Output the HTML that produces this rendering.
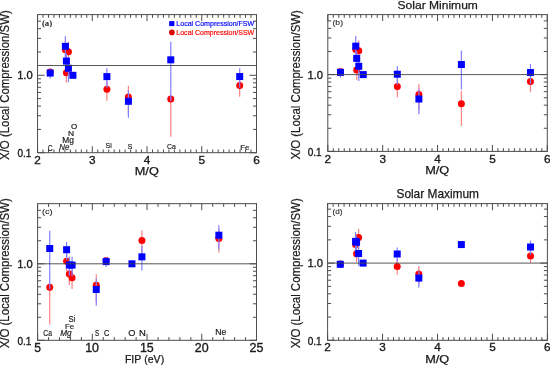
<!DOCTYPE html>
<html><head><meta charset="utf-8"><style>
html,body{margin:0;padding:0;background:#fff;width:550px;height:365px;overflow:hidden}
svg{display:block;filter:blur(0.35px)}
text{font-kerning:none;stroke:currentColor}
</style></head><body>
<svg width="550" height="365" viewBox="0 0 550 365">
<rect width="550" height="365" fill="#fff"/>
<line x1="65.41" y1="63.87" x2="65.41" y2="39.85" stroke="#ff8080" stroke-width="1.2"/>
<line x1="66.40" y1="82.80" x2="66.40" y2="65.24" stroke="#ff8080" stroke-width="1.2"/>
<line x1="68.42" y1="66.94" x2="68.42" y2="41.48" stroke="#ff8080" stroke-width="1.2"/>
<line x1="106.90" y1="100.69" x2="106.90" y2="80.72" stroke="#ff8080" stroke-width="1.2"/>
<line x1="128.41" y1="114.00" x2="128.41" y2="85.75" stroke="#ff8080" stroke-width="1.2"/>
<line x1="170.78" y1="136.76" x2="170.78" y2="99.06" stroke="#ff8080" stroke-width="1.2"/>
<line x1="239.70" y1="96.74" x2="239.70" y2="77.62" stroke="#ff8080" stroke-width="1.2"/>
<circle cx="50.19" cy="72.05" r="3.5" fill="#ff0000"/>
<circle cx="65.41" cy="49.76" r="3.5" fill="#ff0000"/>
<circle cx="66.40" cy="72.67" r="3.5" fill="#ff0000"/>
<circle cx="68.42" cy="51.85" r="3.5" fill="#ff0000"/>
<circle cx="106.90" cy="89.31" r="3.5" fill="#ff0000"/>
<circle cx="128.41" cy="96.97" r="3.5" fill="#ff0000"/>
<circle cx="170.78" cy="99.06" r="3.5" fill="#ff0000"/>
<circle cx="239.70" cy="85.59" r="3.5" fill="#ff0000"/>
<line x1="50.19" y1="78.60" x2="50.19" y2="68.33" stroke="#8080ff" stroke-width="1.2"/>
<line x1="65.41" y1="60.94" x2="65.41" y2="36.21" stroke="#8080ff" stroke-width="1.2"/>
<line x1="66.40" y1="71.43" x2="66.40" y2="53.16" stroke="#8080ff" stroke-width="1.2"/>
<line x1="68.42" y1="82.19" x2="68.42" y2="57.29" stroke="#8080ff" stroke-width="1.2"/>
<line x1="106.90" y1="87.84" x2="106.90" y2="68.20" stroke="#8080ff" stroke-width="1.2"/>
<line x1="128.41" y1="117.79" x2="128.41" y2="90.32" stroke="#8080ff" stroke-width="1.2"/>
<line x1="170.78" y1="101.07" x2="170.78" y2="41.86" stroke="#8080ff" stroke-width="1.2"/>
<line x1="239.70" y1="87.68" x2="239.70" y2="68.20" stroke="#8080ff" stroke-width="1.2"/>
<rect x="46.69" y="69.56" width="7" height="7" fill="#0000ff"/>
<rect x="61.91" y="42.85" width="7" height="7" fill="#0000ff"/>
<rect x="62.90" y="57.56" width="7" height="7" fill="#0000ff"/>
<rect x="64.92" y="64.76" width="7" height="7" fill="#0000ff"/>
<rect x="69.41" y="71.80" width="7" height="7" fill="#0000ff"/>
<rect x="103.40" y="73.12" width="7" height="7" fill="#0000ff"/>
<rect x="124.91" y="97.81" width="7" height="7" fill="#0000ff"/>
<rect x="167.28" y="56.32" width="7" height="7" fill="#0000ff"/>
<rect x="236.20" y="73.04" width="7" height="7" fill="#0000ff"/>
<line x1="355.73" y1="59.24" x2="355.73" y2="42.34" stroke="#ff8080" stroke-width="1.2"/>
<line x1="356.72" y1="79.98" x2="356.72" y2="62.31" stroke="#ff8080" stroke-width="1.2"/>
<line x1="358.75" y1="65.69" x2="358.75" y2="40.42" stroke="#ff8080" stroke-width="1.2"/>
<line x1="397.33" y1="97.49" x2="397.33" y2="78.44" stroke="#ff8080" stroke-width="1.2"/>
<line x1="418.89" y1="110.31" x2="418.89" y2="83.82" stroke="#ff8080" stroke-width="1.2"/>
<line x1="461.37" y1="125.90" x2="461.37" y2="90.70" stroke="#ff8080" stroke-width="1.2"/>
<line x1="530.45" y1="92.19" x2="530.45" y2="73.06" stroke="#ff8080" stroke-width="1.2"/>
<circle cx="340.48" cy="71.53" r="3.5" fill="#ff0000"/>
<circle cx="355.73" cy="49.49" r="3.5" fill="#ff0000"/>
<circle cx="356.72" cy="69.99" r="3.5" fill="#ff0000"/>
<circle cx="358.75" cy="50.72" r="3.5" fill="#ff0000"/>
<circle cx="397.33" cy="86.58" r="3.5" fill="#ff0000"/>
<circle cx="418.89" cy="94.49" r="3.5" fill="#ff0000"/>
<circle cx="461.37" cy="103.78" r="3.5" fill="#ff0000"/>
<circle cx="530.45" cy="81.50" r="3.5" fill="#ff0000"/>
<line x1="340.48" y1="77.80" x2="340.48" y2="67.69" stroke="#8080ff" stroke-width="1.2"/>
<line x1="355.73" y1="60.93" x2="355.73" y2="36.00" stroke="#8080ff" stroke-width="1.2"/>
<line x1="356.72" y1="66.92" x2="356.72" y2="51.56" stroke="#8080ff" stroke-width="1.2"/>
<line x1="358.75" y1="81.00" x2="358.75" y2="56.17" stroke="#8080ff" stroke-width="1.2"/>
<line x1="397.33" y1="85.12" x2="397.33" y2="66.00" stroke="#8080ff" stroke-width="1.2"/>
<line x1="418.89" y1="114.23" x2="418.89" y2="88.65" stroke="#8080ff" stroke-width="1.2"/>
<line x1="461.37" y1="89.58" x2="461.37" y2="50.41" stroke="#8080ff" stroke-width="1.2"/>
<line x1="530.45" y1="83.89" x2="530.45" y2="64.08" stroke="#8080ff" stroke-width="1.2"/>
<rect x="336.98" y="68.90" width="7" height="7" fill="#0000ff"/>
<rect x="352.23" y="42.68" width="7" height="7" fill="#0000ff"/>
<rect x="353.22" y="54.90" width="7" height="7" fill="#0000ff"/>
<rect x="355.25" y="62.81" width="7" height="7" fill="#0000ff"/>
<rect x="359.75" y="71.10" width="7" height="7" fill="#0000ff"/>
<rect x="393.83" y="70.72" width="7" height="7" fill="#0000ff"/>
<rect x="415.39" y="95.52" width="7" height="7" fill="#0000ff"/>
<rect x="457.87" y="61.00" width="7" height="7" fill="#0000ff"/>
<rect x="526.95" y="69.03" width="7" height="7" fill="#0000ff"/>
<line x1="355.57" y1="251.52" x2="355.57" y2="237.62" stroke="#ff8080" stroke-width="1.2"/>
<line x1="356.56" y1="262.00" x2="356.56" y2="247.04" stroke="#ff8080" stroke-width="1.2"/>
<line x1="358.59" y1="249.59" x2="358.59" y2="228.82" stroke="#ff8080" stroke-width="1.2"/>
<line x1="397.22" y1="274.53" x2="397.22" y2="259.24" stroke="#ff8080" stroke-width="1.2"/>
<line x1="418.82" y1="284.48" x2="418.82" y2="266.00" stroke="#ff8080" stroke-width="1.2"/>
<line x1="530.53" y1="263.10" x2="530.53" y2="249.98" stroke="#ff8080" stroke-width="1.2"/>
<circle cx="340.29" cy="264.03" r="3.5" fill="#ff0000"/>
<circle cx="355.57" cy="244.57" r="3.5" fill="#ff0000"/>
<circle cx="356.56" cy="253.68" r="3.5" fill="#ff0000"/>
<circle cx="358.59" cy="237.62" r="3.5" fill="#ff0000"/>
<circle cx="397.22" cy="266.42" r="3.5" fill="#ff0000"/>
<circle cx="418.82" cy="273.99" r="3.5" fill="#ff0000"/>
<circle cx="461.35" cy="283.60" r="3.5" fill="#ff0000"/>
<circle cx="530.53" cy="256.00" r="3.5" fill="#ff0000"/>
<line x1="340.29" y1="267.73" x2="340.29" y2="260.78" stroke="#8080ff" stroke-width="1.2"/>
<line x1="355.57" y1="254.30" x2="355.57" y2="231.99" stroke="#8080ff" stroke-width="1.2"/>
<line x1="356.56" y1="249.20" x2="356.56" y2="236.08" stroke="#8080ff" stroke-width="1.2"/>
<line x1="358.59" y1="265.80" x2="358.59" y2="244.57" stroke="#8080ff" stroke-width="1.2"/>
<line x1="397.22" y1="262.04" x2="397.22" y2="247.51" stroke="#8080ff" stroke-width="1.2"/>
<line x1="418.82" y1="287.73" x2="418.82" y2="270.82" stroke="#8080ff" stroke-width="1.2"/>
<line x1="530.53" y1="254.87" x2="530.53" y2="240.63" stroke="#8080ff" stroke-width="1.2"/>
<rect x="336.79" y="260.80" width="7" height="7" fill="#0000ff"/>
<rect x="352.07" y="237.83" width="7" height="7" fill="#0000ff"/>
<rect x="353.06" y="238.76" width="7" height="7" fill="#0000ff"/>
<rect x="355.09" y="250.03" width="7" height="7" fill="#0000ff"/>
<rect x="359.60" y="259.60" width="7" height="7" fill="#0000ff"/>
<rect x="393.72" y="250.49" width="7" height="7" fill="#0000ff"/>
<rect x="415.32" y="274.58" width="7" height="7" fill="#0000ff"/>
<rect x="457.85" y="241.07" width="7" height="7" fill="#0000ff"/>
<rect x="527.03" y="243.50" width="7" height="7" fill="#0000ff"/>
<line x1="218.85" y1="252.50" x2="218.85" y2="228.76" stroke="#ff8080" stroke-width="1.2"/>
<line x1="66.60" y1="271.21" x2="66.60" y2="253.86" stroke="#ff8080" stroke-width="1.2"/>
<line x1="141.91" y1="255.54" x2="141.91" y2="230.37" stroke="#ff8080" stroke-width="1.2"/>
<line x1="72.08" y1="288.89" x2="72.08" y2="269.16" stroke="#ff8080" stroke-width="1.2"/>
<line x1="96.27" y1="302.05" x2="96.27" y2="274.13" stroke="#ff8080" stroke-width="1.2"/>
<line x1="49.75" y1="324.54" x2="49.75" y2="287.29" stroke="#ff8080" stroke-width="1.2"/>
<line x1="69.34" y1="284.99" x2="69.34" y2="266.10" stroke="#ff8080" stroke-width="1.2"/>
<circle cx="106.12" cy="260.59" r="3.5" fill="#ff0000"/>
<circle cx="218.85" cy="238.56" r="3.5" fill="#ff0000"/>
<circle cx="66.60" cy="261.20" r="3.5" fill="#ff0000"/>
<circle cx="141.91" cy="240.62" r="3.5" fill="#ff0000"/>
<circle cx="72.08" cy="277.65" r="3.5" fill="#ff0000"/>
<circle cx="96.27" cy="285.22" r="3.5" fill="#ff0000"/>
<circle cx="49.75" cy="287.29" r="3.5" fill="#ff0000"/>
<circle cx="69.34" cy="273.97" r="3.5" fill="#ff0000"/>
<line x1="106.12" y1="267.06" x2="106.12" y2="256.92" stroke="#8080ff" stroke-width="1.2"/>
<line x1="218.85" y1="249.61" x2="218.85" y2="225.17" stroke="#8080ff" stroke-width="1.2"/>
<line x1="66.60" y1="259.98" x2="66.60" y2="241.92" stroke="#8080ff" stroke-width="1.2"/>
<line x1="141.91" y1="270.61" x2="141.91" y2="246.00" stroke="#8080ff" stroke-width="1.2"/>
<line x1="72.08" y1="276.19" x2="72.08" y2="256.78" stroke="#8080ff" stroke-width="1.2"/>
<line x1="96.27" y1="305.80" x2="96.27" y2="278.64" stroke="#8080ff" stroke-width="1.2"/>
<line x1="49.75" y1="289.27" x2="49.75" y2="230.75" stroke="#8080ff" stroke-width="1.2"/>
<line x1="69.34" y1="276.04" x2="69.34" y2="256.78" stroke="#8080ff" stroke-width="1.2"/>
<rect x="102.62" y="258.08" width="7" height="7" fill="#0000ff"/>
<rect x="215.35" y="231.69" width="7" height="7" fill="#0000ff"/>
<rect x="63.10" y="246.22" width="7" height="7" fill="#0000ff"/>
<rect x="138.41" y="253.34" width="7" height="7" fill="#0000ff"/>
<rect x="128.45" y="260.30" width="7" height="7" fill="#0000ff"/>
<rect x="68.58" y="261.60" width="7" height="7" fill="#0000ff"/>
<rect x="92.77" y="286.00" width="7" height="7" fill="#0000ff"/>
<rect x="46.25" y="245.00" width="7" height="7" fill="#0000ff"/>
<rect x="65.84" y="261.52" width="7" height="7" fill="#0000ff"/>
<line x1="37.55" y1="65.50" x2="256.50" y2="65.50" stroke="#454545" stroke-width="0.9"/>
<line x1="327.80" y1="74.60" x2="547.30" y2="74.60" stroke="#454545" stroke-width="0.9"/>
<line x1="37.60" y1="263.80" x2="256.50" y2="263.80" stroke="#454545" stroke-width="0.9"/>
<line x1="327.60" y1="263.10" x2="547.40" y2="263.10" stroke="#454545" stroke-width="0.9"/>
<path d="M37.55 152.70L37.55 146.20 M37.55 14.60L37.55 21.10 M92.29 152.70L92.29 146.20 M92.29 14.60L92.29 21.10 M147.02 152.70L147.02 146.20 M147.02 14.60L147.02 21.10 M201.76 152.70L201.76 146.20 M201.76 14.60L201.76 21.10 M256.50 152.70L256.50 146.20 M256.50 14.60L256.50 21.10 M43.02 152.70L43.02 149.50 M43.02 14.60L43.02 17.80 M48.50 152.70L48.50 149.50 M48.50 14.60L48.50 17.80 M53.97 152.70L53.97 149.50 M53.97 14.60L53.97 17.80 M59.44 152.70L59.44 149.50 M59.44 14.60L59.44 17.80 M64.92 152.70L64.92 149.50 M64.92 14.60L64.92 17.80 M70.39 152.70L70.39 149.50 M70.39 14.60L70.39 17.80 M75.87 152.70L75.87 149.50 M75.87 14.60L75.87 17.80 M81.34 152.70L81.34 149.50 M81.34 14.60L81.34 17.80 M86.81 152.70L86.81 149.50 M86.81 14.60L86.81 17.80 M97.76 152.70L97.76 149.50 M97.76 14.60L97.76 17.80 M103.23 152.70L103.23 149.50 M103.23 14.60L103.23 17.80 M108.71 152.70L108.71 149.50 M108.71 14.60L108.71 17.80 M114.18 152.70L114.18 149.50 M114.18 14.60L114.18 17.80 M119.66 152.70L119.66 149.50 M119.66 14.60L119.66 17.80 M125.13 152.70L125.13 149.50 M125.13 14.60L125.13 17.80 M130.60 152.70L130.60 149.50 M130.60 14.60L130.60 17.80 M136.08 152.70L136.08 149.50 M136.08 14.60L136.08 17.80 M141.55 152.70L141.55 149.50 M141.55 14.60L141.55 17.80 M152.50 152.70L152.50 149.50 M152.50 14.60L152.50 17.80 M157.97 152.70L157.97 149.50 M157.97 14.60L157.97 17.80 M163.45 152.70L163.45 149.50 M163.45 14.60L163.45 17.80 M168.92 152.70L168.92 149.50 M168.92 14.60L168.92 17.80 M174.39 152.70L174.39 149.50 M174.39 14.60L174.39 17.80 M179.87 152.70L179.87 149.50 M179.87 14.60L179.87 17.80 M185.34 152.70L185.34 149.50 M185.34 14.60L185.34 17.80 M190.81 152.70L190.81 149.50 M190.81 14.60L190.81 17.80 M196.29 152.70L196.29 149.50 M196.29 14.60L196.29 17.80 M207.24 152.70L207.24 149.50 M207.24 14.60L207.24 17.80 M212.71 152.70L212.71 149.50 M212.71 14.60L212.71 17.80 M218.18 152.70L218.18 149.50 M218.18 14.60L218.18 17.80 M223.66 152.70L223.66 149.50 M223.66 14.60L223.66 17.80 M229.13 152.70L229.13 149.50 M229.13 14.60L229.13 17.80 M234.60 152.70L234.60 149.50 M234.60 14.60L234.60 17.80 M240.08 152.70L240.08 149.50 M240.08 14.60L240.08 17.80 M245.55 152.70L245.55 149.50 M245.55 14.60L245.55 17.80 M251.03 152.70L251.03 149.50 M251.03 14.60L251.03 17.80 M37.55 152.70L44.55 152.70 M256.50 152.70L249.50 152.70 M37.55 75.30L44.55 75.30 M256.50 75.30L249.50 75.30 M37.55 129.40L41.05 129.40 M256.50 129.40L253.00 129.40 M37.55 115.77L41.05 115.77 M256.50 115.77L253.00 115.77 M37.55 106.10L41.05 106.10 M256.50 106.10L253.00 106.10 M37.55 98.60L41.05 98.60 M256.50 98.60L253.00 98.60 M37.55 92.47L41.05 92.47 M256.50 92.47L253.00 92.47 M37.55 87.29L41.05 87.29 M256.50 87.29L253.00 87.29 M37.55 82.80L41.05 82.80 M256.50 82.80L253.00 82.80 M37.55 78.84L41.05 78.84 M256.50 78.84L253.00 78.84 M37.55 52.00L41.05 52.00 M256.50 52.00L253.00 52.00 M37.55 38.37L41.05 38.37 M256.50 38.37L253.00 38.37 M37.55 28.70L41.05 28.70 M256.50 28.70L253.00 28.70 M37.55 21.20L41.05 21.20 M256.50 21.20L253.00 21.20" stroke="#4d4d4d" stroke-width="1" fill="none"/>
<rect x="37.55" y="14.60" width="218.95" height="138.10" stroke="#4d4d4d" stroke-width="1" fill="none"/>
<path d="M327.80 151.40L327.80 144.90 M327.80 14.60L327.80 21.10 M382.68 151.40L382.68 144.90 M382.68 14.60L382.68 21.10 M437.55 151.40L437.55 144.90 M437.55 14.60L437.55 21.10 M492.42 151.40L492.42 144.90 M492.42 14.60L492.42 21.10 M547.30 151.40L547.30 144.90 M547.30 14.60L547.30 21.10 M333.29 151.40L333.29 148.20 M333.29 14.60L333.29 17.80 M338.78 151.40L338.78 148.20 M338.78 14.60L338.78 17.80 M344.26 151.40L344.26 148.20 M344.26 14.60L344.26 17.80 M349.75 151.40L349.75 148.20 M349.75 14.60L349.75 17.80 M355.24 151.40L355.24 148.20 M355.24 14.60L355.24 17.80 M360.73 151.40L360.73 148.20 M360.73 14.60L360.73 17.80 M366.21 151.40L366.21 148.20 M366.21 14.60L366.21 17.80 M371.70 151.40L371.70 148.20 M371.70 14.60L371.70 17.80 M377.19 151.40L377.19 148.20 M377.19 14.60L377.19 17.80 M388.16 151.40L388.16 148.20 M388.16 14.60L388.16 17.80 M393.65 151.40L393.65 148.20 M393.65 14.60L393.65 17.80 M399.14 151.40L399.14 148.20 M399.14 14.60L399.14 17.80 M404.62 151.40L404.62 148.20 M404.62 14.60L404.62 17.80 M410.11 151.40L410.11 148.20 M410.11 14.60L410.11 17.80 M415.60 151.40L415.60 148.20 M415.60 14.60L415.60 17.80 M421.09 151.40L421.09 148.20 M421.09 14.60L421.09 17.80 M426.57 151.40L426.57 148.20 M426.57 14.60L426.57 17.80 M432.06 151.40L432.06 148.20 M432.06 14.60L432.06 17.80 M443.04 151.40L443.04 148.20 M443.04 14.60L443.04 17.80 M448.52 151.40L448.52 148.20 M448.52 14.60L448.52 17.80 M454.01 151.40L454.01 148.20 M454.01 14.60L454.01 17.80 M459.50 151.40L459.50 148.20 M459.50 14.60L459.50 17.80 M464.99 151.40L464.99 148.20 M464.99 14.60L464.99 17.80 M470.47 151.40L470.47 148.20 M470.47 14.60L470.47 17.80 M475.96 151.40L475.96 148.20 M475.96 14.60L475.96 17.80 M481.45 151.40L481.45 148.20 M481.45 14.60L481.45 17.80 M486.94 151.40L486.94 148.20 M486.94 14.60L486.94 17.80 M497.91 151.40L497.91 148.20 M497.91 14.60L497.91 17.80 M503.40 151.40L503.40 148.20 M503.40 14.60L503.40 17.80 M508.89 151.40L508.89 148.20 M508.89 14.60L508.89 17.80 M514.38 151.40L514.38 148.20 M514.38 14.60L514.38 17.80 M519.86 151.40L519.86 148.20 M519.86 14.60L519.86 17.80 M525.35 151.40L525.35 148.20 M525.35 14.60L525.35 17.80 M530.84 151.40L530.84 148.20 M530.84 14.60L530.84 17.80 M536.32 151.40L536.32 148.20 M536.32 14.60L536.32 17.80 M541.81 151.40L541.81 148.20 M541.81 14.60L541.81 17.80 M327.80 151.40L334.80 151.40 M547.30 151.40L540.30 151.40 M327.80 74.60L334.80 74.60 M547.30 74.60L540.30 74.60 M327.80 128.28L331.30 128.28 M547.30 128.28L543.80 128.28 M327.80 114.76L331.30 114.76 M547.30 114.76L543.80 114.76 M327.80 105.16L331.30 105.16 M547.30 105.16L543.80 105.16 M327.80 97.72L331.30 97.72 M547.30 97.72L543.80 97.72 M327.80 91.64L331.30 91.64 M547.30 91.64L543.80 91.64 M327.80 86.50L331.30 86.50 M547.30 86.50L543.80 86.50 M327.80 82.04L331.30 82.04 M547.30 82.04L543.80 82.04 M327.80 78.11L331.30 78.11 M547.30 78.11L543.80 78.11 M327.80 51.48L331.30 51.48 M547.30 51.48L543.80 51.48 M327.80 37.96L331.30 37.96 M547.30 37.96L543.80 37.96 M327.80 28.36L331.30 28.36 M547.30 28.36L543.80 28.36 M327.80 20.92L331.30 20.92 M547.30 20.92L543.80 20.92" stroke="#4d4d4d" stroke-width="1" fill="none"/>
<rect x="327.80" y="14.60" width="219.50" height="136.80" stroke="#4d4d4d" stroke-width="1" fill="none"/>
<path d="M327.60 340.30L327.60 333.80 M327.60 203.60L327.60 210.10 M382.55 340.30L382.55 333.80 M382.55 203.60L382.55 210.10 M437.50 340.30L437.50 333.80 M437.50 203.60L437.50 210.10 M492.45 340.30L492.45 333.80 M492.45 203.60L492.45 210.10 M547.40 340.30L547.40 333.80 M547.40 203.60L547.40 210.10 M333.10 340.30L333.10 337.10 M333.10 203.60L333.10 206.80 M338.59 340.30L338.59 337.10 M338.59 203.60L338.59 206.80 M344.09 340.30L344.09 337.10 M344.09 203.60L344.09 206.80 M349.58 340.30L349.58 337.10 M349.58 203.60L349.58 206.80 M355.08 340.30L355.08 337.10 M355.08 203.60L355.08 206.80 M360.57 340.30L360.57 337.10 M360.57 203.60L360.57 206.80 M366.07 340.30L366.07 337.10 M366.07 203.60L366.07 206.80 M371.56 340.30L371.56 337.10 M371.56 203.60L371.56 206.80 M377.06 340.30L377.06 337.10 M377.06 203.60L377.06 206.80 M388.05 340.30L388.05 337.10 M388.05 203.60L388.05 206.80 M393.54 340.30L393.54 337.10 M393.54 203.60L393.54 206.80 M399.03 340.30L399.03 337.10 M399.03 203.60L399.03 206.80 M404.53 340.30L404.53 337.10 M404.53 203.60L404.53 206.80 M410.02 340.30L410.02 337.10 M410.02 203.60L410.02 206.80 M415.52 340.30L415.52 337.10 M415.52 203.60L415.52 206.80 M421.01 340.30L421.01 337.10 M421.01 203.60L421.01 206.80 M426.51 340.30L426.51 337.10 M426.51 203.60L426.51 206.80 M432.00 340.30L432.00 337.10 M432.00 203.60L432.00 206.80 M443.00 340.30L443.00 337.10 M443.00 203.60L443.00 206.80 M448.49 340.30L448.49 337.10 M448.49 203.60L448.49 206.80 M453.99 340.30L453.99 337.10 M453.99 203.60L453.99 206.80 M459.48 340.30L459.48 337.10 M459.48 203.60L459.48 206.80 M464.98 340.30L464.98 337.10 M464.98 203.60L464.98 206.80 M470.47 340.30L470.47 337.10 M470.47 203.60L470.47 206.80 M475.97 340.30L475.97 337.10 M475.97 203.60L475.97 206.80 M481.46 340.30L481.46 337.10 M481.46 203.60L481.46 206.80 M486.96 340.30L486.96 337.10 M486.96 203.60L486.96 206.80 M497.94 340.30L497.94 337.10 M497.94 203.60L497.94 206.80 M503.44 340.30L503.44 337.10 M503.44 203.60L503.44 206.80 M508.93 340.30L508.93 337.10 M508.93 203.60L508.93 206.80 M514.43 340.30L514.43 337.10 M514.43 203.60L514.43 206.80 M519.92 340.30L519.92 337.10 M519.92 203.60L519.92 206.80 M525.42 340.30L525.42 337.10 M525.42 203.60L525.42 206.80 M530.91 340.30L530.91 337.10 M530.91 203.60L530.91 206.80 M536.41 340.30L536.41 337.10 M536.41 203.60L536.41 206.80 M541.90 340.30L541.90 337.10 M541.90 203.60L541.90 206.80 M327.60 340.30L334.60 340.30 M547.40 340.30L540.40 340.30 M327.60 263.10L334.60 263.10 M547.40 263.10L540.40 263.10 M327.60 317.06L331.10 317.06 M547.40 317.06L543.90 317.06 M327.60 303.47L331.10 303.47 M547.40 303.47L543.90 303.47 M327.60 293.82L331.10 293.82 M547.40 293.82L543.90 293.82 M327.60 286.34L331.10 286.34 M547.40 286.34L543.90 286.34 M327.60 280.23L331.10 280.23 M547.40 280.23L543.90 280.23 M327.60 275.06L331.10 275.06 M547.40 275.06L543.90 275.06 M327.60 270.58L331.10 270.58 M547.40 270.58L543.90 270.58 M327.60 266.63L331.10 266.63 M547.40 266.63L543.90 266.63 M327.60 239.86L331.10 239.86 M547.40 239.86L543.90 239.86 M327.60 226.27L331.10 226.27 M547.40 226.27L543.90 226.27 M327.60 216.62L331.10 216.62 M547.40 216.62L543.90 216.62 M327.60 209.14L331.10 209.14 M547.40 209.14L543.90 209.14" stroke="#4d4d4d" stroke-width="1" fill="none"/>
<rect x="327.60" y="203.60" width="219.80" height="136.70" stroke="#4d4d4d" stroke-width="1" fill="none"/>
<path d="M37.60 340.30L37.60 333.80 M37.60 203.65L37.60 210.15 M92.33 340.30L92.33 333.80 M92.33 203.65L92.33 210.15 M147.05 340.30L147.05 333.80 M147.05 203.65L147.05 210.15 M201.78 340.30L201.78 333.80 M201.78 203.65L201.78 210.15 M256.50 340.30L256.50 333.80 M256.50 203.65L256.50 210.15 M48.55 340.30L48.55 337.10 M48.55 203.65L48.55 206.85 M59.49 340.30L59.49 337.10 M59.49 203.65L59.49 206.85 M70.44 340.30L70.44 337.10 M70.44 203.65L70.44 206.85 M81.38 340.30L81.38 337.10 M81.38 203.65L81.38 206.85 M103.27 340.30L103.27 337.10 M103.27 203.65L103.27 206.85 M114.22 340.30L114.22 337.10 M114.22 203.65L114.22 206.85 M125.16 340.30L125.16 337.10 M125.16 203.65L125.16 206.85 M136.11 340.30L136.11 337.10 M136.11 203.65L136.11 206.85 M158.00 340.30L158.00 337.10 M158.00 203.65L158.00 206.85 M168.94 340.30L168.94 337.10 M168.94 203.65L168.94 206.85 M179.89 340.30L179.89 337.10 M179.89 203.65L179.89 206.85 M190.83 340.30L190.83 337.10 M190.83 203.65L190.83 206.85 M212.72 340.30L212.72 337.10 M212.72 203.65L212.72 206.85 M223.66 340.30L223.66 337.10 M223.66 203.65L223.66 206.85 M234.61 340.30L234.61 337.10 M234.61 203.65L234.61 206.85 M245.56 340.30L245.56 337.10 M245.56 203.65L245.56 206.85 M37.60 340.30L44.60 340.30 M256.50 340.30L249.50 340.30 M37.60 263.80L44.60 263.80 M256.50 263.80L249.50 263.80 M37.60 317.27L41.10 317.27 M256.50 317.27L253.00 317.27 M37.60 303.80L41.10 303.80 M256.50 303.80L253.00 303.80 M37.60 294.24L41.10 294.24 M256.50 294.24L253.00 294.24 M37.60 286.83L41.10 286.83 M256.50 286.83L253.00 286.83 M37.60 280.77L41.10 280.77 M256.50 280.77L253.00 280.77 M37.60 275.65L41.10 275.65 M256.50 275.65L253.00 275.65 M37.60 271.21L41.10 271.21 M256.50 271.21L253.00 271.21 M37.60 267.30L41.10 267.30 M256.50 267.30L253.00 267.30 M37.60 240.77L41.10 240.77 M256.50 240.77L253.00 240.77 M37.60 227.30L41.10 227.30 M256.50 227.30L253.00 227.30 M37.60 217.74L41.10 217.74 M256.50 217.74L253.00 217.74 M37.60 210.33L41.10 210.33 M256.50 210.33L253.00 210.33" stroke="#4d4d4d" stroke-width="1" fill="none"/>
<rect x="37.60" y="203.65" width="218.90" height="136.65" stroke="#4d4d4d" stroke-width="1" fill="none"/>
<rect x="169.2" y="21.1" width="5.2" height="5.0" fill="#0000ff"/>
<circle cx="171.9" cy="32.4" r="2.8" fill="#dd0000"/>
<text x="176.32" y="26.40" style="font-family:'Liberation Sans';font-size:7.70px;stroke-width:0.18px" textLength="77.90" lengthAdjust="spacingAndGlyphs" fill="#0000ff" color="#0000ff">Local Compression/FSW</text>
<text x="176.33" y="35.10" style="font-family:'Liberation Sans';font-size:7.85px;stroke-width:0.18px" textLength="77.90" lengthAdjust="spacingAndGlyphs" fill="#ff0000" color="#ff0000">Local Compression/SSW</text>
<text x="41.91" y="25.63" style="font-family:'Liberation Serif';font-size:7.83px;font-weight:bold;stroke-width:0px" textLength="10.27" lengthAdjust="spacingAndGlyphs" fill="#1a1a1a" color="#1a1a1a" >(a)</text>
<text x="332.46" y="25.36" style="font-family:'Liberation Sans';font-size:6.98px;stroke-width:0.08px" textLength="10.57" lengthAdjust="spacingAndGlyphs" fill="#1a1a1a" color="#1a1a1a" >(b)</text>
<text x="42.03" y="214.26" style="font-family:'Liberation Sans';font-size:6.98px;stroke-width:0.08px" textLength="10.63" lengthAdjust="spacingAndGlyphs" fill="#1a1a1a" color="#1a1a1a" >(c)</text>
<text x="332.49" y="213.83" style="font-family:'Liberation Sans';font-size:7.08px;stroke-width:0.08px" textLength="10.02" lengthAdjust="spacingAndGlyphs" fill="#1a1a1a" color="#1a1a1a" >(d)</text>
<text x="397.55" y="9.20" style="font-family:'Liberation Sans';font-size:11.63px;stroke-width:0.25px" textLength="80.34" lengthAdjust="spacingAndGlyphs" fill="#1a1a1a" color="#1a1a1a">Solar Minimum</text>
<text x="396.46" y="198.00" style="font-family:'Liberation Sans';font-size:11.92px;stroke-width:0.25px" textLength="82.52" lengthAdjust="spacingAndGlyphs" fill="#1a1a1a" color="#1a1a1a">Solar Maximum</text>
<text transform="translate(9.30,159.96) rotate(-90)" x="0" y="0" style="font-family:'Liberation Sans';font-size:11.92px;stroke-width:0.2px" textLength="149.76" lengthAdjust="spacingAndGlyphs" fill="#1a1a1a" color="#1a1a1a">X/O (Local Compression/SW)</text>
<text transform="translate(299.80,159.46) rotate(-90)" x="0" y="0" style="font-family:'Liberation Sans';font-size:11.92px;stroke-width:0.2px" textLength="149.26" lengthAdjust="spacingAndGlyphs" fill="#1a1a1a" color="#1a1a1a">X/O (Local Compression/SW)</text>
<text transform="translate(9.20,348.36) rotate(-90)" x="0" y="0" style="font-family:'Liberation Sans';font-size:11.92px;stroke-width:0.2px" textLength="150.07" lengthAdjust="spacingAndGlyphs" fill="#1a1a1a" color="#1a1a1a">X/O (Local Compression/SW)</text>
<text transform="translate(299.80,348.36) rotate(-90)" x="0" y="0" style="font-family:'Liberation Sans';font-size:11.92px;stroke-width:0.2px" textLength="150.07" lengthAdjust="spacingAndGlyphs" fill="#1a1a1a" color="#1a1a1a">X/O (Local Compression/SW)</text>
<text x="17.15" y="79.30" style="font-family:'Liberation Sans';font-size:11.19px;stroke-width:0.35px" textLength="15.59" lengthAdjust="spacingAndGlyphs" fill="#1a1a1a" color="#1a1a1a">1.0</text>
<text x="307.45" y="78.70" style="font-family:'Liberation Sans';font-size:11.19px;stroke-width:0.35px" textLength="15.59" lengthAdjust="spacingAndGlyphs" fill="#1a1a1a" color="#1a1a1a">1.0</text>
<text x="17.15" y="267.80" style="font-family:'Liberation Sans';font-size:11.19px;stroke-width:0.35px" textLength="15.59" lengthAdjust="spacingAndGlyphs" fill="#1a1a1a" color="#1a1a1a">1.0</text>
<text x="307.45" y="267.20" style="font-family:'Liberation Sans';font-size:11.19px;stroke-width:0.35px" textLength="15.59" lengthAdjust="spacingAndGlyphs" fill="#1a1a1a" color="#1a1a1a">1.0</text>
<text x="17.41" y="157.00" style="font-family:'Liberation Sans';font-size:11.19px;stroke-width:0.35px" textLength="13.98" lengthAdjust="spacingAndGlyphs" fill="#1a1a1a" color="#1a1a1a">0.1</text>
<text x="307.71" y="156.00" style="font-family:'Liberation Sans';font-size:11.19px;stroke-width:0.35px" textLength="13.98" lengthAdjust="spacingAndGlyphs" fill="#1a1a1a" color="#1a1a1a">0.1</text>
<text x="17.41" y="344.80" style="font-family:'Liberation Sans';font-size:11.19px;stroke-width:0.35px" textLength="13.98" lengthAdjust="spacingAndGlyphs" fill="#1a1a1a" color="#1a1a1a">0.1</text>
<text x="307.71" y="344.80" style="font-family:'Liberation Sans';font-size:11.19px;stroke-width:0.35px" textLength="13.98" lengthAdjust="spacingAndGlyphs" fill="#1a1a1a" color="#1a1a1a">0.1</text>
<text x="34.28" y="163.50" style="font-family:'Liberation Sans';font-size:11.77px;stroke-width:0.35px" textLength="6.55" lengthAdjust="spacingAndGlyphs" fill="#1a1a1a" color="#1a1a1a">2</text>
<text x="89.05" y="163.50" style="font-family:'Liberation Sans';font-size:11.77px;stroke-width:0.35px" textLength="6.55" lengthAdjust="spacingAndGlyphs" fill="#1a1a1a" color="#1a1a1a">3</text>
<text x="143.79" y="163.50" style="font-family:'Liberation Sans';font-size:11.77px;stroke-width:0.35px" textLength="6.55" lengthAdjust="spacingAndGlyphs" fill="#1a1a1a" color="#1a1a1a">4</text>
<text x="198.50" y="163.50" style="font-family:'Liberation Sans';font-size:11.77px;stroke-width:0.35px" textLength="6.55" lengthAdjust="spacingAndGlyphs" fill="#1a1a1a" color="#1a1a1a">5</text>
<text x="253.19" y="163.50" style="font-family:'Liberation Sans';font-size:11.77px;stroke-width:0.35px" textLength="6.55" lengthAdjust="spacingAndGlyphs" fill="#1a1a1a" color="#1a1a1a">6</text>
<text x="324.53" y="162.90" style="font-family:'Liberation Sans';font-size:11.77px;stroke-width:0.35px" textLength="6.55" lengthAdjust="spacingAndGlyphs" fill="#1a1a1a" color="#1a1a1a">2</text>
<text x="379.44" y="162.90" style="font-family:'Liberation Sans';font-size:11.77px;stroke-width:0.35px" textLength="6.55" lengthAdjust="spacingAndGlyphs" fill="#1a1a1a" color="#1a1a1a">3</text>
<text x="434.31" y="162.90" style="font-family:'Liberation Sans';font-size:11.77px;stroke-width:0.35px" textLength="6.55" lengthAdjust="spacingAndGlyphs" fill="#1a1a1a" color="#1a1a1a">4</text>
<text x="489.16" y="162.90" style="font-family:'Liberation Sans';font-size:11.77px;stroke-width:0.35px" textLength="6.55" lengthAdjust="spacingAndGlyphs" fill="#1a1a1a" color="#1a1a1a">5</text>
<text x="543.99" y="162.90" style="font-family:'Liberation Sans';font-size:11.77px;stroke-width:0.35px" textLength="6.55" lengthAdjust="spacingAndGlyphs" fill="#1a1a1a" color="#1a1a1a">6</text>
<text x="34.26" y="351.60" style="font-family:'Liberation Sans';font-size:12.06px;stroke-width:0.35px" textLength="6.71" lengthAdjust="spacingAndGlyphs" fill="#1a1a1a" color="#1a1a1a">5</text>
<text x="85.18" y="351.60" style="font-family:'Liberation Sans';font-size:12.06px;stroke-width:0.35px" textLength="13.82" lengthAdjust="spacingAndGlyphs" fill="#1a1a1a" color="#1a1a1a">10</text>
<text x="139.93" y="351.60" style="font-family:'Liberation Sans';font-size:12.06px;stroke-width:0.35px" textLength="13.82" lengthAdjust="spacingAndGlyphs" fill="#1a1a1a" color="#1a1a1a">15</text>
<text x="194.79" y="351.60" style="font-family:'Liberation Sans';font-size:12.06px;stroke-width:0.35px" textLength="13.82" lengthAdjust="spacingAndGlyphs" fill="#1a1a1a" color="#1a1a1a">20</text>
<text x="249.54" y="351.60" style="font-family:'Liberation Sans';font-size:12.06px;stroke-width:0.35px" textLength="13.82" lengthAdjust="spacingAndGlyphs" fill="#1a1a1a" color="#1a1a1a">25</text>
<text x="324.33" y="351.00" style="font-family:'Liberation Sans';font-size:11.77px;stroke-width:0.35px" textLength="6.55" lengthAdjust="spacingAndGlyphs" fill="#1a1a1a" color="#1a1a1a">2</text>
<text x="379.31" y="351.00" style="font-family:'Liberation Sans';font-size:11.77px;stroke-width:0.35px" textLength="6.55" lengthAdjust="spacingAndGlyphs" fill="#1a1a1a" color="#1a1a1a">3</text>
<text x="434.26" y="351.00" style="font-family:'Liberation Sans';font-size:11.77px;stroke-width:0.35px" textLength="6.55" lengthAdjust="spacingAndGlyphs" fill="#1a1a1a" color="#1a1a1a">4</text>
<text x="489.19" y="351.00" style="font-family:'Liberation Sans';font-size:11.77px;stroke-width:0.35px" textLength="6.55" lengthAdjust="spacingAndGlyphs" fill="#1a1a1a" color="#1a1a1a">5</text>
<text x="544.09" y="351.00" style="font-family:'Liberation Sans';font-size:11.77px;stroke-width:0.35px" textLength="6.55" lengthAdjust="spacingAndGlyphs" fill="#1a1a1a" color="#1a1a1a">6</text>
<text x="134.76" y="174.59" style="font-family:'Liberation Sans';font-size:10.62px;stroke-width:0.25px" textLength="24.05" lengthAdjust="spacingAndGlyphs" fill="#1a1a1a" color="#1a1a1a" >M/Q</text>
<text x="425.16" y="173.79" style="font-family:'Liberation Sans';font-size:10.62px;stroke-width:0.25px" textLength="24.05" lengthAdjust="spacingAndGlyphs" fill="#1a1a1a" color="#1a1a1a" >M/Q</text>
<text x="425.16" y="362.99" style="font-family:'Liberation Sans';font-size:10.62px;stroke-width:0.25px" textLength="24.05" lengthAdjust="spacingAndGlyphs" fill="#1a1a1a" color="#1a1a1a" >M/Q</text>
<text x="124.94" y="363.00" style="font-family:'Liberation Sans';font-size:10.76px;stroke-width:0.25px" textLength="39.22" lengthAdjust="spacingAndGlyphs" fill="#1a1a1a" color="#1a1a1a">FIP (eV)</text>
<text x="47.76" y="150.90" style="font-family:'Liberation Sans';font-size:8.87px;stroke-width:0.18px" textLength="4.90" lengthAdjust="spacingAndGlyphs" fill="#1a1a1a" color="#1a1a1a">C</text>
<text x="59.36" y="149.90" style="font-family:'Liberation Sans';font-size:8.14px;font-style:italic;stroke-width:0.18px" textLength="10.03" lengthAdjust="spacingAndGlyphs" fill="#1a1a1a" color="#1a1a1a">Ne</text>
<text x="62.31" y="142.60" style="font-family:'Liberation Sans';font-size:8.28px;stroke-width:0.18px" textLength="11.63" lengthAdjust="spacingAndGlyphs" fill="#1a1a1a" color="#1a1a1a">Mg</text>
<text x="68.01" y="135.80" style="font-family:'Liberation Sans';font-size:7.12px;stroke-width:0.18px" textLength="6.08" lengthAdjust="spacingAndGlyphs" fill="#1a1a1a" color="#1a1a1a">N</text>
<text x="71.02" y="129.20" style="font-family:'Liberation Sans';font-size:7.27px;stroke-width:0.18px" textLength="6.27" lengthAdjust="spacingAndGlyphs" fill="#1a1a1a" color="#1a1a1a">O</text>
<text x="105.58" y="147.90" style="font-family:'Liberation Sans';font-size:7.70px;stroke-width:0.18px" textLength="6.18" lengthAdjust="spacingAndGlyphs" fill="#1a1a1a" color="#1a1a1a">Si</text>
<text x="127.78" y="148.50" style="font-family:'Liberation Sans';font-size:7.56px;stroke-width:0.18px" textLength="4.63" lengthAdjust="spacingAndGlyphs" fill="#1a1a1a" color="#1a1a1a">S</text>
<text x="167.05" y="149.00" style="font-family:'Liberation Sans';font-size:7.99px;stroke-width:0.18px" textLength="8.85" lengthAdjust="spacingAndGlyphs" fill="#1a1a1a" color="#1a1a1a">Ca</text>
<text x="240.25" y="149.70" style="font-family:'Liberation Sans';font-size:7.99px;stroke-width:0.18px" textLength="9.20" lengthAdjust="spacingAndGlyphs" fill="#1a1a1a" color="#1a1a1a">Fe</text>
<text x="43.26" y="335.60" style="font-family:'Liberation Sans';font-size:8.43px;stroke-width:0.18px" textLength="8.64" lengthAdjust="spacingAndGlyphs" fill="#1a1a1a" color="#1a1a1a">Ca</text>
<text x="60.15" y="335.60" style="font-family:'Liberation Sans';font-size:8.28px;font-style:italic;stroke-width:0.18px" textLength="11.32" lengthAdjust="spacingAndGlyphs" fill="#1a1a1a" color="#1a1a1a">Mg</text>
<text x="64.95" y="328.80" style="font-family:'Liberation Sans';font-size:7.99px;stroke-width:0.18px" textLength="9.20" lengthAdjust="spacingAndGlyphs" fill="#1a1a1a" color="#1a1a1a">Fe</text>
<text x="68.55" y="321.80" style="font-family:'Liberation Sans';font-size:8.43px;stroke-width:0.18px" textLength="6.87" lengthAdjust="spacingAndGlyphs" fill="#1a1a1a" color="#1a1a1a">Si</text>
<text x="95.02" y="336.20" style="font-family:'Liberation Sans';font-size:8.14px;stroke-width:0.18px" textLength="4.17" lengthAdjust="spacingAndGlyphs" fill="#1a1a1a" color="#1a1a1a">S</text>
<text x="104.02" y="336.20" style="font-family:'Liberation Sans';font-size:8.14px;stroke-width:0.18px" textLength="5.36" lengthAdjust="spacingAndGlyphs" fill="#1a1a1a" color="#1a1a1a">C</text>
<text x="128.26" y="336.20" style="font-family:'Liberation Sans';font-size:8.14px;stroke-width:0.18px" textLength="7.18" lengthAdjust="spacingAndGlyphs" fill="#1a1a1a" color="#1a1a1a">O</text>
<text x="139.12" y="336.20" style="font-family:'Liberation Sans';font-size:8.14px;stroke-width:0.18px" textLength="6.85" lengthAdjust="spacingAndGlyphs" fill="#1a1a1a" color="#1a1a1a">N</text>
<text x="215.19" y="335.40" style="font-family:'Liberation Sans';font-size:8.28px;stroke-width:0.18px" textLength="10.99" lengthAdjust="spacingAndGlyphs" fill="#1a1a1a" color="#1a1a1a">Ne</text>
</svg>
</body></html>
